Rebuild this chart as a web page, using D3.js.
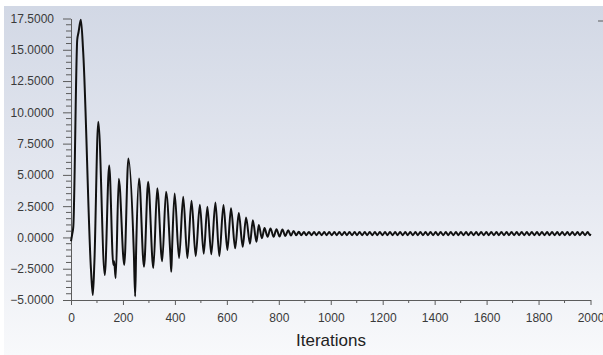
<!DOCTYPE html>
<html>
<head>
<meta charset="utf-8">
<script src="https://cdn.jsdelivr.net/npm/d3@7"></script>
<style>
  html, body { margin: 0; padding: 0; background: #ffffff; }
  svg { display: block; font-family: "Liberation Sans", Arial, sans-serif; }
</style>
</head>
<body>
<svg id="chart" width="603" height="355"></svg>
<script>
// ---- data ----
const xTickValues = [0, 200, 400, 600, 800, 1000, 1200, 1400, 1600, 1800, 2000];
const yTickValues = [-5, -2.5, 0, 2.5, 5, 7.5, 10, 12.5, 15, 17.5];
const xLabel = "Iterations";

// transient part: iterations and values
const iterations = [
  0, 5, 9, 24, 29, 38, 47, 77, 84, 90,
  105, 130, 147, 163, 166, 172, 184, 205, 221, 242,
  247, 251, 262, 281, 297, 317, 332, 351, 366, 383,
  386, 389, 399, 416, 432, 448, 464, 480, 496, 511,
  525, 540, 556, 571, 587, 602, 616, 632, 646, 661,
  674, 689, 700, 714, 723, 735, 745, 757, 768, 780,
  791, 803, 814, 825, 836, 847, 857, 867,
  877, 887, 897, 906, 916, 926, 936, 945, 955, 965,
  975, 984, 994, 1004, 1014, 1023, 1033, 1043, 1053, 1062,
  1072, 1082, 1092, 1101, 1111, 1121, 1131, 1140, 1150, 1160,
  1170, 1179, 1189, 1199, 1209, 1218, 1228, 1238, 1248, 1257,
  1267, 1277, 1287, 1296, 1306, 1316, 1326, 1335, 1345, 1355,
  1365, 1374, 1384, 1394, 1404, 1413, 1423, 1433, 1443, 1452,
  1462, 1472, 1482, 1491, 1501, 1511, 1521, 1530, 1540, 1550,
  1560, 1569, 1579, 1589, 1599, 1608, 1618, 1628, 1638, 1647,
  1657, 1667, 1677, 1686, 1696, 1706, 1716, 1725, 1735, 1745,
  1755, 1764, 1774, 1784, 1794, 1803, 1813, 1823, 1833, 1842,
  1852, 1862, 1872, 1881, 1891, 1901, 1911, 1920, 1930, 1940,
  1950, 1959, 1969, 1979, 1989, 1998, 2000
];
const values = [
  -0.3, 0.3, 0.9, 15.8, 16.4, 17.4, 14.8, -2.6, -4.6, -2.0,
  9.25, -3.0, 5.75, -2.2, -1.9, -3.25, 4.7, -2.2, 6.3, -1.3,
  -4.7, -0.8, 4.72, -2.35, 4.45, -2.45, 3.93, -1.9, 3.65, -1.6,
  -2.74, -1.0, 3.52, -1.65, 3.25, -1.65, 2.93, -1.5, 2.62, -1.3,
  2.45, -1.35, 2.8, -1.5, 2.6, -1.0, 2.33, -0.87, 1.95, -0.75,
  1.6, -0.5, 1.38, -0.35, 1.0, -0.07, 0.75, 0.05, 0.72, 0.05,
  0.65, 0.08, 0.63, 0.12, 0.58, 0.15, 0.52, 0.18,
  0.45, 0.18, 0.44, 0.18, 0.44, 0.18, 0.43, 0.18, 0.43, 0.18,
  0.43, 0.18, 0.43, 0.18, 0.43, 0.18, 0.43, 0.18, 0.43, 0.18,
  0.43, 0.18, 0.43, 0.18, 0.43, 0.18, 0.43, 0.18, 0.43, 0.18,
  0.43, 0.18, 0.43, 0.18, 0.43, 0.18, 0.43, 0.18, 0.43, 0.18,
  0.43, 0.18, 0.43, 0.18, 0.43, 0.18, 0.43, 0.18, 0.43, 0.18,
  0.43, 0.18, 0.43, 0.18, 0.43, 0.18, 0.43, 0.18, 0.43, 0.18,
  0.43, 0.18, 0.43, 0.18, 0.43, 0.18, 0.43, 0.18, 0.43, 0.18,
  0.43, 0.18, 0.43, 0.18, 0.43, 0.18, 0.43, 0.18, 0.43, 0.18,
  0.43, 0.18, 0.43, 0.18, 0.43, 0.18, 0.43, 0.18, 0.43, 0.18,
  0.43, 0.18, 0.43, 0.18, 0.43, 0.18, 0.43, 0.18, 0.43, 0.18,
  0.43, 0.18, 0.43, 0.18, 0.43, 0.18, 0.43, 0.18, 0.43, 0.18,
  0.43, 0.18, 0.43, 0.18, 0.43, 0.18, 0.30
];

// ---- drawing ----
const svg = d3.select("#chart");
const W = 603, H = 355;

const defs = svg.append("defs");
const grad = defs.append("linearGradient")
  .attr("id", "bg").attr("x1", 0).attr("y1", 0).attr("x2", 0).attr("y2", 1);
grad.append("stop").attr("offset", "0%").attr("stop-color", "#d2d8e5");
grad.append("stop").attr("offset", "55%").attr("stop-color", "#e6e9f1");
grad.append("stop").attr("offset", "100%").attr("stop-color", "#f8f9fb");

svg.append("rect").attr("x", 0).attr("y", 0).attr("width", W).attr("height", H).attr("fill", "#ffffff");
svg.append("rect").attr("x", 4).attr("y", 6).attr("width", W - 4).attr("height", H - 6).attr("fill", "url(#bg)");

const x = d3.scaleLinear().domain([0, 2000]).range([71, 590.5]);
const y = d3.scaleLinear().domain([-5, 17.5]).range([300, 18.5]);

const axisColor = "#5c5c5c";
const textColor = "#3a3a3a";

// minor ticks
const yMinor = d3.range(-5, 17.5001, 0.5).filter(v => Math.abs((v / 2.5) - Math.round(v / 2.5)) > 1e-6);
svg.append("g").selectAll("line").data(yMinor).join("line")
  .attr("x1", x(0) - 5).attr("x2", x(0))
  .attr("y1", d => y(d)).attr("y2", d => y(d))
  .attr("stroke", axisColor).attr("stroke-width", 1);
const xMinor = d3.range(100, 2000, 200);
svg.append("g").selectAll("line").data(xMinor).join("line")
  .attr("x1", d => x(d)).attr("x2", d => x(d))
  .attr("y1", y(-5)).attr("y2", y(-5) + 3)
  .attr("stroke", axisColor).attr("stroke-width", 1);

// y axis
const gy = svg.append("g").attr("transform", `translate(${x(0)},0)`)
  .call(d3.axisLeft(y).tickValues(yTickValues).tickFormat(d3.format(".4f"))
    .tickSize(8).tickSizeOuter(0).tickPadding(9));
gy.selectAll("path,line").attr("stroke", axisColor);
gy.selectAll("text").attr("fill", textColor).style("font-size", "12px")
  .style("font-family", '"Liberation Sans", Arial, sans-serif');

// x axis
const gx = svg.append("g").attr("transform", `translate(0,${y(-5)})`)
  .call(d3.axisBottom(x).tickValues(xTickValues).tickFormat(d3.format("d"))
    .tickSize(5).tickSizeOuter(0).tickPadding(8.5));
gx.selectAll("path,line").attr("stroke", axisColor);
gx.selectAll("text").attr("fill", textColor).style("font-size", "12px")
  .style("font-family", '"Liberation Sans", Arial, sans-serif');

// small dash on right
svg.append("line").attr("x1", 598).attr("x2", 603).attr("y1", 21).attr("y2", 21)
  .attr("stroke", axisColor).attr("stroke-width", 1);

// axis title
svg.append("text").attr("x", 331).attr("y", 346).attr("text-anchor", "middle")
  .attr("fill", "#222").style("font-size", "17px")
  .style("font-family", '"Liberation Sans", Arial, sans-serif')
  .text(xLabel);

// the line
const pts = iterations.map((it, i) => [it, values[i]]);
const line = d3.line().x(d => x(d[0])).y(d => y(d[1])).curve(d3.curveMonotoneX);
svg.append("path").datum(pts).attr("d", line)
  .attr("fill", "none").attr("stroke", "#111").attr("stroke-width", 2)
  .attr("stroke-linejoin", "round");
</script>
</body>
</html>
